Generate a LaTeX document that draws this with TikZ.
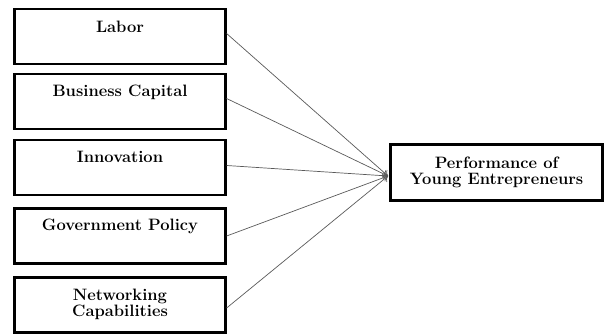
\documentclass[tikz,border=0pt]{standalone}
\usepackage{fontspec}
\usetikzlibrary{arrows.meta}
\begin{document}
\begin{tikzpicture}[x=1pt,y=-1pt,
  box/.style={draw=black,line width=2.2pt,minimum width=211pt,minimum height=55pt,inner sep=0pt},
  lbl/.style={font=\bfseries\fontsize{16.5}{19}\selectfont,align=center,inner sep=0pt},
  link/.style={draw=black!65,line width=0.7pt,-{To[length=5pt,width=8pt]}}]
\useasboundingbox (0,0) rectangle (604,334);
\node[box] (b1) at (120,36.5) {};
\node[box] (b2) at (120,101.5) {};
\node[box] (b3) at (120,167.5) {};
\node[box] (b4) at (120,236) {};
\node[box] (b5) at (120,305) {};
\node[box,minimum width=212pt,minimum height=56pt] (p) at (496.5,172.5) {};
\node[lbl] (t1) at (120,27) {Labor};
\node[lbl] (t2) at (120,92) {Business Capital};
\node[lbl] (t3) at (120,157) {Innovation};
\node[lbl] (t4) at (120,226) {Government Policy};
\node[lbl] (t5) at (120,304.5) {Networking\\[-3pt]Capabilities};
\node[lbl] (tp) at (496.5,172) {Performance of\\[-3pt]Young Entrepreneurs};
\coordinate (tip) at (388,176);
\draw[link] ([yshift=3pt]b1.east) -- (tip);
\draw[link] ([yshift=3pt]b2.east) -- (tip);
\draw[link] ([yshift=2pt]b3.east) -- (tip);
\draw[link] (b4.east) -- (tip);
\draw[link] ([yshift=-3pt]b5.east) -- (tip);
\end{tikzpicture}
\end{document}
